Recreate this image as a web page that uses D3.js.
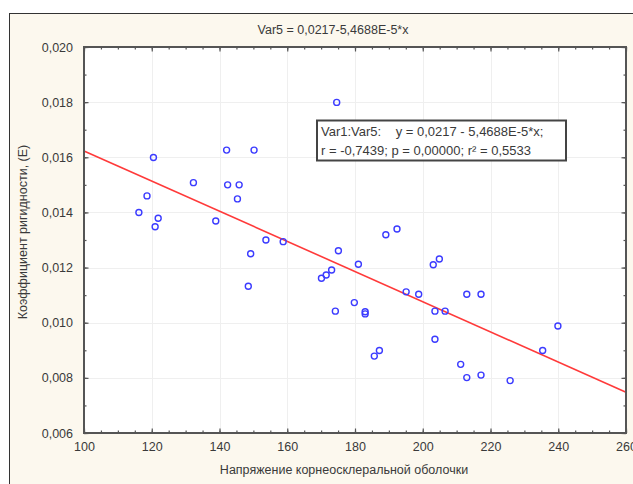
<!DOCTYPE html>
<html>
<head>
<meta charset="utf-8">
<script src="https://cdn.jsdelivr.net/npm/d3@7"></script>
<style>
  html, body { margin: 0; padding: 0; background: #ffffff; }
  svg { display: block; font-family: "Liberation Sans", Arial, sans-serif; }
</style>
</head>
<body>
<svg id="chart" width="633" height="484"></svg>
<script>
// ---- data ----
const chartTitle = "Var5 = 0,0217-5,4688E-5*x";
const xAxisTitle = "Напряжение корнеосклеральной оболочки";
const yAxisTitle = "Коэффициент ригидности, (E)";
const legendLines = ["Var1:Var5:    y = 0,0217 - 5,4688E-5*x;", "r = -0,7439; p = 0,00000; r\u00B2 = 0,5533"];
const xTickValues = [100, 120, 140, 160, 180, 200, 220, 240, 260];
const yTickValues = [0.006, 0.008, 0.010, 0.012, 0.014, 0.016, 0.018, 0.020];
const regIntercept = 0.0217;
const regSlope = -5.4688e-5;
const xValues = [116.2, 118.6, 120.5, 121.0, 121.9, 132.3, 138.9, 142.1, 142.4, 145.3,
                 145.8, 148.5, 149.2, 150.2, 153.7, 158.8, 170.1, 171.5, 173.1, 174.2,
                 174.6, 175.1, 179.8, 181.0, 183.0, 183.0, 185.7, 187.2, 189.1, 192.4,
                 195.1, 198.8, 203.1, 203.6, 203.6, 204.9, 206.6, 211.2, 213.0, 217.2,
                 213.0, 217.2, 225.8, 235.4, 239.9];
const yValues = [0.01400, 0.01460, 0.01599, 0.01348, 0.01379, 0.01508, 0.01369, 0.01626, 0.01500, 0.01449,
                 0.01500, 0.01132, 0.01250, 0.01626, 0.01300, 0.01294, 0.01161, 0.01173, 0.01191, 0.01042,
                 0.01799, 0.01261, 0.01073, 0.01212, 0.01040, 0.01032, 0.00879, 0.00899, 0.01319, 0.01340,
                 0.01112, 0.01103, 0.01210, 0.01042, 0.00940, 0.01231, 0.01042, 0.00849, 0.00801, 0.00810,
                 0.01103, 0.01103, 0.00790, 0.00899, 0.00988];

// ---- layout ----
const svg = d3.select("#chart");
const plot = { left: 84, right: 626, top: 47, bottom: 433 };
const x = d3.scaleLinear().domain([100, 260]).range([plot.left, plot.right]);
const y = d3.scaleLinear().domain([0.006, 0.020]).range([plot.bottom, plot.top]);
const comma = s => s.replace(".", ",");
const textColor = "#3a3a3a";

// outer panel
svg.append("rect").attr("x", 9.5).attr("y", 13.5).attr("width", 640).attr("height", 480)
  .attr("fill", "#fcf8ee").attr("stroke", "#333").attr("stroke-width", 1);

// plot background
svg.append("rect").attr("x", plot.left).attr("y", plot.top)
  .attr("width", plot.right - plot.left).attr("height", plot.bottom - plot.top)
  .attr("fill", "#ffffff");

// grid
const grid = svg.append("g").attr("stroke", "#efefef").attr("stroke-width", 1);
xTickValues.slice(1, -1).forEach(v => grid.append("line")
  .attr("x1", Math.round(x(v)) + 0.5).attr("x2", Math.round(x(v)) + 0.5)
  .attr("y1", plot.top).attr("y2", plot.bottom));
yTickValues.slice(1, -1).forEach(v => grid.append("line")
  .attr("y1", Math.round(y(v)) + 0.5).attr("y2", Math.round(y(v)) + 0.5)
  .attr("x1", plot.left).attr("x2", plot.right));

// axes with inner ticks on all four sides
const axisColor = "#555";
function styleAxis(g) {
  g.select(".domain").remove();
  g.selectAll("line").attr("stroke", axisColor).attr("stroke-width", 1.2);
}
const xMinor = d3.range(100, 261, 5);
const yMinor = d3.range(0, 15).map(i => 0.006 + i * 0.001);

svg.append("g").attr("transform", `translate(0,${plot.bottom})`)
  .call(d3.axisBottom(x).tickValues(xMinor).tickSize(-2.5).tickFormat(""))
  .call(styleAxis);
svg.append("g").attr("transform", `translate(0,${plot.bottom})`)
  .call(d3.axisBottom(x).tickValues(xTickValues).tickSize(-4.5).tickPadding(9).tickFormat(d => d3.format("d")(d)))
  .call(styleAxis)
  .call(g => g.selectAll("text").attr("fill", textColor).attr("font-size", 12.5).attr("dy", "0.71em"));
svg.append("g").attr("transform", `translate(0,${plot.top})`)
  .call(d3.axisTop(x).tickValues(xMinor).tickSize(-2.5).tickFormat("")).call(styleAxis);
svg.append("g").attr("transform", `translate(0,${plot.top})`)
  .call(d3.axisTop(x).tickValues(xTickValues).tickSize(-4.5).tickFormat("")).call(styleAxis);

svg.append("g").attr("transform", `translate(${plot.left},0)`)
  .call(d3.axisLeft(y).tickValues(yMinor).tickSize(-2.5).tickFormat("")).call(styleAxis);
svg.append("g").attr("transform", `translate(${plot.left},0)`)
  .call(d3.axisLeft(y).tickValues(yTickValues).tickSize(-4.5).tickPadding(11).tickFormat(d => comma(d3.format(".3f")(d))))
  .call(styleAxis)
  .call(g => g.selectAll("text").attr("fill", textColor).attr("font-size", 12.5));
svg.append("g").attr("transform", `translate(${plot.right},0)`)
  .call(d3.axisRight(y).tickValues(yMinor).tickSize(-2.5).tickFormat("")).call(styleAxis);
svg.append("g").attr("transform", `translate(${plot.right},0)`)
  .call(d3.axisRight(y).tickValues(yTickValues).tickSize(-4.5).tickFormat("")).call(styleAxis);

// regression line
const dom = x.domain();
svg.append("line")
  .attr("x1", x(dom[0])).attr("y1", y(regIntercept + regSlope * dom[0]))
  .attr("x2", x(dom[1])).attr("y2", y(regIntercept + regSlope * dom[1]))
  .attr("stroke", "#ff3a3a").attr("stroke-width", 1.6);

// points
svg.append("g").selectAll("circle")
  .data(xValues.map((v, i) => [v, yValues[i]]))
  .join("circle")
  .attr("cx", d => x(d[0])).attr("cy", d => y(d[1])).attr("r", 3)
  .attr("fill", "none").attr("stroke", "#3b3bff").attr("stroke-width", 1.4);

// plot frame
svg.append("rect").attr("x", plot.left).attr("y", plot.top)
  .attr("width", plot.right - plot.left).attr("height", plot.bottom - plot.top)
  .attr("fill", "none").attr("stroke", "#555").attr("stroke-width", 2);

// legend box
const lg = svg.append("g");
lg.append("rect").attr("x", 317).attr("y", 120.5).attr("width", 249).attr("height", 40)
  .attr("fill", "#ffffff").attr("stroke", "#444").attr("stroke-width", 2);
lg.selectAll("text").data(legendLines).join("text")
  .attr("x", 321).attr("y", (d, i) => 136 + i * 18.5)
  .attr("font-size", 13).attr("fill", textColor).attr("xml:space", "preserve")
  .style("white-space", "pre")
  .text(d => d);

// titles
svg.append("text").attr("x", 333).attr("y", 34).attr("text-anchor", "middle")
  .attr("font-size", 12.5).attr("fill", textColor).text(chartTitle);
svg.append("text").attr("x", 344).attr("y", 474).attr("text-anchor", "middle")
  .attr("font-size", 12.5).attr("fill", textColor).text(xAxisTitle);
svg.append("text").attr("transform", "translate(27,232) rotate(-90)").attr("text-anchor", "middle")
  .attr("font-size", 12.5).attr("fill", textColor).text(yAxisTitle);
</script>
</body>
</html>
